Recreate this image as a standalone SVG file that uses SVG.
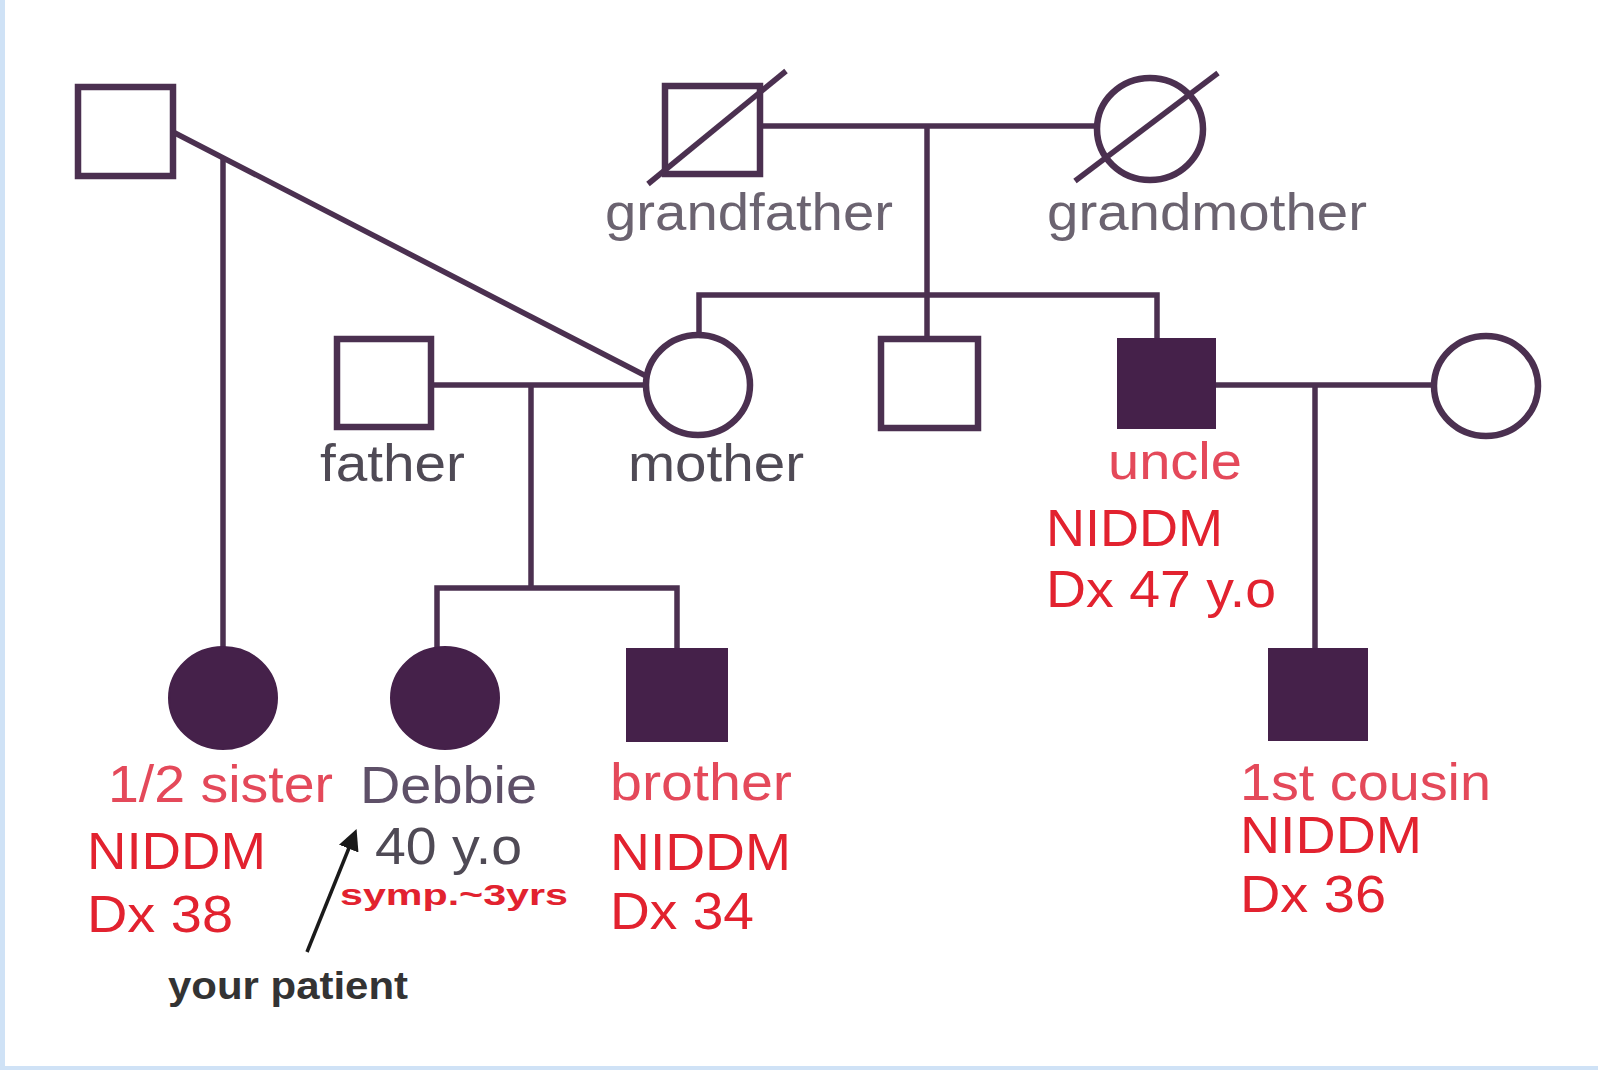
<svg xmlns="http://www.w3.org/2000/svg" width="1598" height="1070" viewBox="0 0 1598 1070">
<style>
.ln{stroke:#4b3050;stroke-width:5.5;fill:none;stroke-linecap:butt}
.sh{stroke:#4b3050;stroke-width:6.5;fill:#ffffff}
.af{fill:#45214a;stroke:#45214a;stroke-width:2}
text{font-family:"Liberation Sans",Arial,Helvetica,sans-serif;font-size:52px}
.gy{fill:#6b6370}
.dk{fill:#4f4a55}
.pl{fill:#5e5068}
.rl{fill:#e4495a}
.rd{fill:#e2222f}
.sm{font-size:30px;font-weight:bold}
.yp{font-size:38px;font-weight:bold;fill:#333333}
</style>
<defs>
<marker id="ah" viewBox="0 0 10 10" refX="8" refY="5" markerWidth="6" markerHeight="6" orient="auto">
<path d="M0,0 L10,5 L0,10 z" fill="#1a1a1a"/>
</marker>
</defs>
<rect x="0" y="0" width="1598" height="1070" fill="#ffffff"/>
<rect x="0" y="0" width="5" height="1070" fill="#cfe2f6"/>
<rect x="0" y="1066" width="1598" height="4" fill="#cfe2f6"/>

<g id="connectors">
<line class="ln" x1="173" y1="132" x2="648" y2="377"/>
<line class="ln" x1="223" y1="158" x2="223" y2="647"/>
<line class="ln" x1="760" y1="126" x2="1097" y2="126"/>
<line class="ln" x1="927" y1="126" x2="927" y2="339"/>
<polyline class="ln" points="699,334 699,295 1157,295 1157,339"/>
<line class="ln" x1="431" y1="385" x2="646" y2="385"/>
<line class="ln" x1="531" y1="385" x2="531" y2="588"/>
<polyline class="ln" points="437,648 437,588 677,588 677,649"/>
<line class="ln" x1="1215" y1="385" x2="1434" y2="385"/>
<line class="ln" x1="1315" y1="385" x2="1315" y2="649"/>
<line x1="307" y1="952" x2="355" y2="833" stroke="#1a1a1a" stroke-width="3.5" marker-end="url(#ah)"/>
</g>

<g id="n-halfsister-father"><rect class="sh" x="78" y="87" width="95" height="89"/></g>
<g id="n-grandfather">
<rect class="sh" x="665" y="86" width="95" height="88"/>
<line class="ln" x1="648" y1="184" x2="786" y2="71"/>
<text class="gy" x="605" y="230" textLength="288" lengthAdjust="spacingAndGlyphs">grandfather</text>
</g>
<g id="n-grandmother">
<ellipse class="sh" cx="1150" cy="129" rx="53" ry="51"/>
<line class="ln" x1="1075" y1="181" x2="1218" y2="73"/>
<text class="gy" x="1047" y="230" textLength="320" lengthAdjust="spacingAndGlyphs">grandmother</text>
</g>
<g id="n-father">
<rect class="sh" x="337" y="339" width="94" height="88"/>
<text class="dk" x="320" y="481" textLength="145" lengthAdjust="spacingAndGlyphs">father</text>
</g>
<g id="n-mother">
<ellipse class="sh" cx="698" cy="385" rx="52" ry="50"/>
<text class="dk" x="628" y="481" textLength="176" lengthAdjust="spacingAndGlyphs">mother</text>
</g>
<g id="n-middle-son"><rect class="sh" x="881" y="339" width="97" height="89"/></g>
<g id="n-uncle">
<rect class="af" x="1118" y="339" width="97" height="89"/>
<text class="rl" x="1108" y="479" textLength="134" lengthAdjust="spacingAndGlyphs">uncle</text>
<text class="rd" x="1046" y="546" textLength="177" lengthAdjust="spacingAndGlyphs">NIDDM</text>
<text class="rd" x="1046" y="607" textLength="230" lengthAdjust="spacingAndGlyphs">Dx 47 y.o</text>
</g>
<g id="n-aunt"><ellipse class="sh" cx="1486" cy="386" rx="52" ry="50"/></g>
<g id="n-halfsister">
<ellipse class="af" cx="223" cy="698" rx="54" ry="51"/>
<text class="rl" x="108" y="802" textLength="225" lengthAdjust="spacingAndGlyphs">1/2 sister</text>
<text class="rd" x="87" y="869" textLength="179" lengthAdjust="spacingAndGlyphs">NIDDM</text>
<text class="rd" x="87" y="932" textLength="146" lengthAdjust="spacingAndGlyphs">Dx 38</text>
</g>
<g id="n-debbie">
<ellipse class="af" cx="445" cy="698" rx="54" ry="51"/>
<text class="pl" x="360" y="803" textLength="177" lengthAdjust="spacingAndGlyphs">Debbie</text>
<text class="dk" x="375" y="864" textLength="147" lengthAdjust="spacingAndGlyphs">40 y.o</text>
<text class="rd sm" x="340" y="905" textLength="228" lengthAdjust="spacingAndGlyphs">symp.~3yrs</text>
<text class="yp" x="168" y="999" textLength="240" lengthAdjust="spacingAndGlyphs">your patient</text>
</g>
<g id="n-brother">
<rect class="af" x="627" y="649" width="100" height="92"/>
<text class="rl" x="610" y="800" textLength="182" lengthAdjust="spacingAndGlyphs">brother</text>
<text class="rd" x="610" y="870" textLength="181" lengthAdjust="spacingAndGlyphs">NIDDM</text>
<text class="rd" x="610" y="929" textLength="144" lengthAdjust="spacingAndGlyphs">Dx 34</text>
</g>
<g id="n-cousin">
<rect class="af" x="1269" y="649" width="98" height="91"/>
<text class="rl" x="1240" y="800" textLength="251" lengthAdjust="spacingAndGlyphs">1st cousin</text>
<text class="rd" x="1240" y="853" textLength="182" lengthAdjust="spacingAndGlyphs">NIDDM</text>
<text class="rd" x="1240" y="912" textLength="146" lengthAdjust="spacingAndGlyphs">Dx 36</text>
</g>
</svg>
